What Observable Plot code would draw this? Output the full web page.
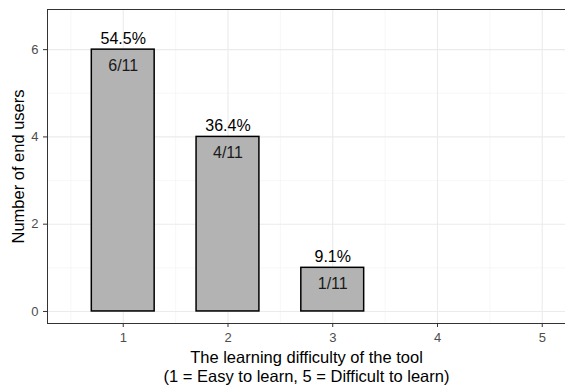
<!DOCTYPE html>
<html>
<head>
<meta charset="utf-8">
<script src="https://cdn.jsdelivr.net/npm/d3@7"></script>
<script src="https://cdn.jsdelivr.net/npm/@observablehq/plot@0.6"></script>
<style>
  html, body { margin: 0; padding: 0; background: #fff; }
</style>
</head>
<body>
<div id="chart"></div>
<script>
const difficulty = [1, 2, 3];
const users = [6, 4, 1];
const percentLabels = ["54.5%", "36.4%", "9.1%"];
const fractionLabels = ["6/11", "4/11", "1/11"];
const xTicks = [1, 2, 3, 4, 5];
const yTicks = [0, 2, 4, 6];
const xTitle = "The learning difficulty of the tool\n(1 = Easy to learn, 5 = Difficult to learn)";
const yTitle = "Number of end users";

const data = difficulty.map((d, i) => ({
  x: d, n: users[i], pct: percentLabels[i], frac: fractionLabels[i]
}));

const xDomain = [0.277, 5.222];
const yDomain = [-0.276, 6.92];
const font = "'Liberation Sans', Arial, Helvetica, sans-serif";

const chart = Plot.plot({
  width: 565,
  height: 385,
  marginLeft: 47,
  marginRight: 0,
  marginTop: 9,
  marginBottom: 62,
  style: { fontFamily: font, background: "#fff" },
  x: { type: "linear", domain: xDomain },
  y: { domain: yDomain },
  marks: [
    // minor grid
    Plot.ruleY([1, 3, 5], { stroke: "#F2F2F2", strokeWidth: 0.6 }),
    Plot.ruleX([0.5, 1.5, 2.5, 3.5, 4.5], { stroke: "#F2F2F2", strokeWidth: 0.6 }),
    // major grid
    Plot.ruleY(yTicks, { stroke: "#EBEBEB", strokeWidth: 1.1 }),
    Plot.ruleX(xTicks, { stroke: "#EBEBEB", strokeWidth: 1.1 }),
    // bars
    Plot.rectY(data, {
      x1: d => d.x - 0.3, x2: d => d.x + 0.3, y1: 0, y2: "n",
      fill: "#B3B3B3", stroke: "#000", strokeWidth: 1.5
    }),
    Plot.text(data, { x: "x", y: "n", text: "pct", dy: -11, fontSize: 16, fill: "#000" }),
    Plot.text(data, { x: "x", y: "n", text: "frac", dy: 16, fontSize: 16, fill: "#1a1a1a" }),
    // panel border (left, top, bottom)
    Plot.ruleX([xDomain[0]], { stroke: "#333333", strokeWidth: 1 }),
    Plot.ruleY([yDomain[0], yDomain[1]], { stroke: "#333333", strokeWidth: 1 }),
    // axes
    Plot.axisX(xTicks, { tickSize: 4, tickPadding: 5, fontSize: 13, color: "#4D4D4D", stroke: "#333333", label: null, tickFormat: d => String(d) }),
    Plot.axisY(yTicks, { tickSize: 4, tickPadding: 5, fontSize: 13, color: "#4D4D4D", stroke: "#333333", label: null, tickFormat: d => String(d) }),
    // axis titles
    Plot.text([xTitle], { frameAnchor: "bottom", dy: 26, lineAnchor: "top", lineHeight: 1.15, fontSize: 16.5, fill: "#000", text: d => d }),
    Plot.text([yTitle], { frameAnchor: "left", dx: -29, rotate: -90, textAnchor: "middle", fontSize: 16.5, fill: "#000", text: d => d })
  ]
});

document.getElementById("chart").appendChild(chart);
</script>
</body>
</html>
